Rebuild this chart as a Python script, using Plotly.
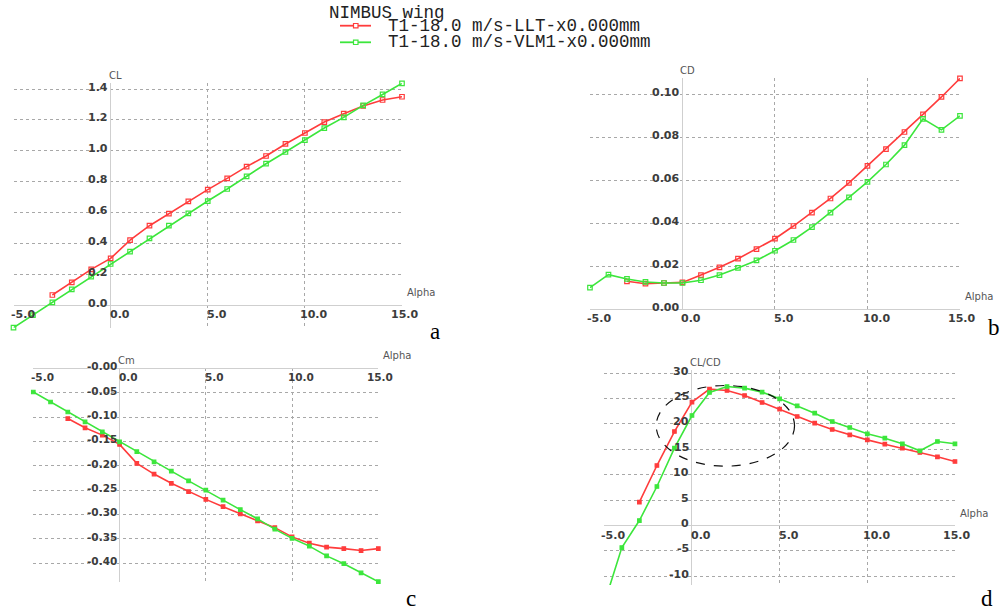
import plotly.graph_objects as go

# ---------------- data ----------------
alpha_llt = [-3, -2, -1, 0, 1, 2, 3, 4, 5, 6, 7, 8, 9, 10, 11, 12, 13, 14, 15]
alpha_vlm = [-5, -4, -3, -2, -1, 0, 1, 2, 3, 4, 5, 6, 7, 8, 9, 10, 11, 12, 13, 14, 15]

cl_llt = [0.065, 0.147, 0.231, 0.302, 0.421, 0.514, 0.592, 0.672, 0.748, 0.821,
          0.897, 0.966, 1.044, 1.115, 1.186, 1.240, 1.290, 1.329, 1.350]
cl_vlm = [-0.147, -0.065, 0.017, 0.102, 0.184, 0.266, 0.346, 0.432, 0.514, 0.594, 0.674,
          0.752, 0.834, 0.916, 0.992, 1.069, 1.147, 1.216, 1.294, 1.365, 1.437]

cd_llt = [0.0130, 0.0119, 0.0122, 0.0125, 0.0159, 0.0195, 0.0235, 0.0280, 0.0328, 0.0387,
          0.0449, 0.0515, 0.0588, 0.0667, 0.0744, 0.0824, 0.0906, 0.0987, 0.1073]
cd_vlm = [0.0101, 0.0161, 0.0141, 0.0127, 0.0122, 0.0122, 0.0135, 0.0159, 0.0192, 0.0227, 0.0272,
          0.0322, 0.0382, 0.0449, 0.0520, 0.0592, 0.0673, 0.0763, 0.0885, 0.0834, 0.0899]

cm_llt = [-0.103, -0.122, -0.137, -0.156, -0.195, -0.217, -0.236, -0.253, -0.269, -0.284,
          -0.299, -0.313, -0.327, -0.346, -0.359, -0.367, -0.370, -0.374, -0.370]
cm_vlm = [-0.0485, -0.069, -0.0895, -0.110, -0.1305, -0.151, -0.171, -0.192, -0.211, -0.231, -0.250,
          -0.2705, -0.290, -0.309, -0.330, -0.349, -0.365, -0.385, -0.401, -0.420, -0.438]

clcd_llt = [4.59, 11.81, 18.50, 24.28, 26.84, 26.57, 25.59, 24.21, 22.90, 21.46,
            20.14, 18.90, 17.85, 16.86, 16.01, 15.22, 14.37, 13.52, 12.60]
clcd_vlm = [-15.29, -4.33, 0.98, 7.68, 15.22, 21.65, 26.18, 27.36, 27.03, 26.25, 24.93,
            23.56, 22.11, 20.47, 19.29, 18.04, 17.19, 16.08, 14.70, 16.54, 16.08]

x_ticks = [-5, 0, 5, 10, 15]
x_tick_labels = ["-5.0", "0.0", "5.0", "10.0", "15.0"]

cl_ticks = [0.0, 0.2, 0.4, 0.6, 0.8, 1.0, 1.2, 1.4]
cl_tick_labels = ["0.0", "0.2", "0.4", "0.6", "0.8", "1.0", "1.2", "1.4"]
cd_ticks = [0.00, 0.02, 0.04, 0.06, 0.08, 0.10]
cd_tick_labels = ["0.00", "0.02", "0.04", "0.06", "0.08", "0.10"]
cm_ticks = [0.0, -0.05, -0.10, -0.15, -0.20, -0.25, -0.30, -0.35, -0.40]
cm_tick_labels = ["-0.00", "-0.05", "-0.10", "-0.15", "-0.20", "-0.25", "-0.30", "-0.35", "-0.40"]
clcd_ticks = [-10, -5, 0, 5, 10, 15, 20, 25, 30]
clcd_tick_labels = ["-10", "-5", "0", "5", "10", "15", "20", "25", "30"]

legend_title = "NIMBUS wing"
name_llt = "T1-18.0 m/s-LLT-x0.000mm"
name_vlm = "T1-18.0 m/s-VLM1-x0.000mm"

# ---------------- style ----------------
RED = "#ff3c3c"
GREEN = "#3ce63c"
GRID = "#a8a8a8"
AXIS = "#cfcfcf"
TICKC = "#3c3c3c"

panels = [
    dict(s="", xd=[0.01346, 0.4008], yd=[0.4628, 0.8634], yr=[-0.147, 1.437],
         yt=cl_ticks, yl=cl_tick_labels, t="CL", ys=(cl_llt, cl_vlm), xs=(alpha_llt, alpha_vlm),
         letter="a", lp=(435, 331), fs=11, sym="square-open"),
    dict(s="2", xd=[0.5882, 0.9571], yd=[0.4923, 0.8721], yr=[-0.0002, 0.1075],
         yt=cd_ticks, yl=cd_tick_labels, t="CD", ys=(cd_llt, cd_vlm), xs=(alpha_llt, alpha_vlm),
         letter="b", lp=(994, 327), fs=11, sym="square-open"),
    dict(s="3", xd=[0.0332, 0.3772], yd=[0.0464, 0.3967], yr=[-0.438, 0.0008],
         yt=cm_ticks, yl=cm_tick_labels, t="Cm", ys=(cm_llt, cm_vlm), xs=(alpha_llt, alpha_vlm),
         letter="c", lp=(411, 598), fs=10.5, sym="square"),
    dict(s="4", xd=[0.6025, 0.9521], yd=[0.041, 0.3934], yr=[-11.7, 30.6],
         yt=clcd_ticks, yl=clcd_tick_labels, t="CL/CD", ys=(clcd_llt, clcd_vlm), xs=(alpha_llt, alpha_vlm),
         letter="d", lp=(987, 598), fs=11, sym="square"),
]

fig = go.Figure()
annotations = []
layout_axes = {}

for p in panels:
    s = p["s"]
    xa = "x" + s
    ya = "y" + s
    for xs, ys, col in ((p["xs"][0], p["ys"][0], RED), (p["xs"][1], p["ys"][1], GREEN)):
        fig.add_trace(go.Scatter(
            x=xs, y=ys, xaxis=xa, yaxis=ya, mode="lines+markers",
            line=dict(color=col, width=1.6),
            marker=dict(symbol=p["sym"], size=4.5 if p["sym"] == "square-open" else 3.5,
                        color=col, line=dict(color=col, width=1.2)),
            showlegend=False, cliponaxis=False, hoverinfo="x+y"))
    layout_axes["xaxis" + s] = dict(
        domain=p["xd"], range=[-5, 15], anchor=ya, tickvals=x_ticks, showticklabels=False,
        ticks="", showgrid=True, gridcolor=GRID, griddash="dot", gridwidth=1,
        zeroline=True, zerolinecolor=AXIS, zerolinewidth=1, showline=False, fixedrange=True)
    layout_axes["yaxis" + s] = dict(
        domain=p["yd"], range=p["yr"], anchor=xa, tickvals=p["yt"], showticklabels=False,
        ticks="", showgrid=True, gridcolor=GRID, griddash="dot", gridwidth=1,
        zeroline=True, zerolinecolor=AXIS, zerolinewidth=1, showline=False, fixedrange=True)

    tf = dict(family="DejaVu Sans", size=p["fs"], color=TICKC, weight="bold")
    for v, lab in zip(p["yt"], p["yl"]):
        annotations.append(dict(x=0, y=v, xref=xa, yref=ya, text=lab, showarrow=False,
                                xanchor="right", yanchor="middle", xshift=-1, yshift=2, font=tf))
    for i, (v, lab) in enumerate(zip(x_ticks, x_tick_labels)):
        annotations.append(dict(x=v, y=0, xref=xa, yref=ya, text=lab, showarrow=False,
                                xanchor="center", yanchor="top",
                                xshift=2 if i == len(x_ticks) - 1 else 9, yshift=-1, font=tf))
    af = dict(family="DejaVu Sans", size=10, color="#555555")
    annotations.append(dict(x=0, y=1, xref=xa, yref=ya + " domain", text=p["t"], showarrow=False,
                            xanchor="left", yanchor="bottom", xshift=-4, yshift=0, font=af))
    annotations.append(dict(x=15, y=0, xref=xa, yref=ya, text="Alpha", showarrow=False,
                            xanchor="left", yanchor="bottom", xshift=3, yshift=5, font=af))
    annotations.append(dict(x=p["lp"][0] / 1003, y=1 - p["lp"][1] / 610, xref="paper", yref="paper",
                            text=p["letter"], showarrow=False, xanchor="center", yanchor="middle",
                            font=dict(family="Liberation Serif", size=23, color="#000000")))

# ---------------- manual legend (top centre) ----------------
W, H = 1003, 610
mono = dict(family="Liberation Mono", size=17.5, color="#222222")
annotations.append(dict(x=327 / W, y=1 - 13 / H, xref="paper", yref="paper", text=legend_title,
                        showarrow=False, xanchor="left", yanchor="middle", font=mono))
shapes = []
for yy, col, name in ((25.7, RED, name_llt), (42.3, GREEN, name_vlm)):
    shapes.append(dict(type="line", xref="paper", yref="paper", x0=340 / W, x1=371 / W,
                       y0=1 - yy / H, y1=1 - yy / H, line=dict(color=col, width=1.8)))
    shapes.append(dict(type="rect", xref="paper", yref="paper", x0=353.5 / W, x1=358 / W,
                       y0=1 - (yy + 2.2) / H, y1=1 - (yy - 2.2) / H,
                       line=dict(color=col, width=1.2), fillcolor="white"))
    annotations.append(dict(x=386 / W, y=1 - yy / H, xref="paper", yref="paper", text=name,
                            showarrow=False, xanchor="left", yanchor="middle", font=mono))

shapes.append(dict(type="circle", xref="x4", yref="y4", x0=-2.04, x1=5.85, y0=11.68, y1=27.56,
                   line=dict(color="#111111", width=1.2, dash="dash"), layer="above"))

fig.update_layout(
    width=W, height=H, margin=dict(l=0, r=0, t=0, b=0),
    paper_bgcolor="white", plot_bgcolor="white",
    annotations=annotations, shapes=shapes, showlegend=False,
    **layout_axes)

fig.write_html("out.html", config={"displayModeBar": False},
               post_script="document.body.style.margin='0';document.body.style.overflow='hidden';")
